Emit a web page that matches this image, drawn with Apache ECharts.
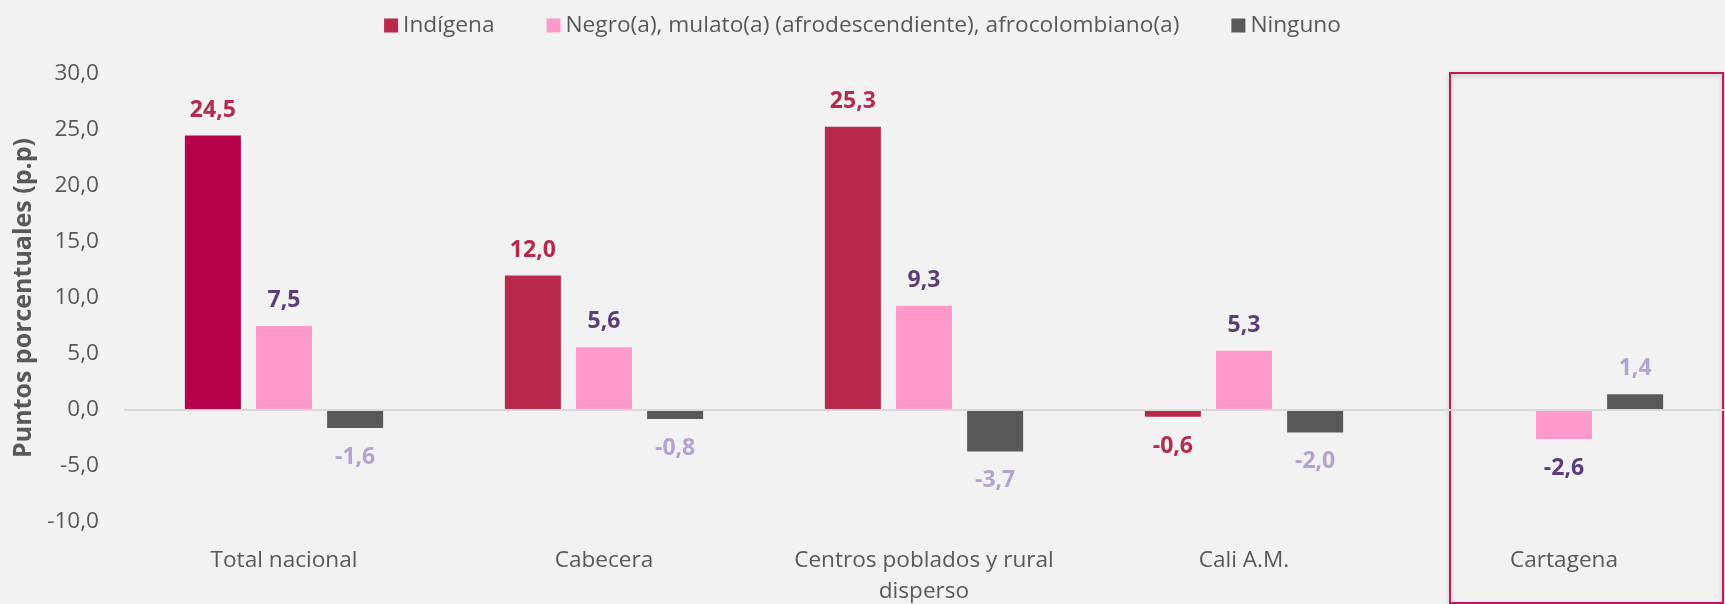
<!DOCTYPE html>
<html>
<head>
<meta charset="utf-8">
<script src="https://cdn.jsdelivr.net/npm/echarts@6/dist/echarts.min.js"></script>
<style>
html,body{margin:0;padding:0;background:#F2F2F2;}
#chart{width:1725px;height:604px;}
</style>
</head>
<body>
<div id="chart"></div>
<script>
const categories = ['Total nacional', 'Cabecera', 'Centros poblados y rural\ndisperso', 'Cali A.M.', 'Cartagena'];
const seriesNames = ['Indígena', 'Negro(a), mulato(a) (afrodescendiente), afrocolombiano(a)', 'Ninguno'];
const indigena = [24.5, 12.0, 25.3, -0.6, null];
const negro = [7.5, 5.6, 9.3, 5.3, -2.6];
const ninguno = [-1.6, -0.8, -3.7, -2.0, 1.4];
const yTicks = { min: -10, max: 30, interval: 5 };

const FONT = 'Open Sans';
const fmt = v => Number(v).toFixed(1).replace('.', ',');

function buildData(values, barColors) {
  return values.map((v, i) => {
    if (v === null) return null;
    const item = { value: v, label: { distance: v >= 0 ? 14 : 18 } };
    if (barColors && barColors[i]) item.itemStyle = { color: barColors[i] };
    return item;
  });
}

function makeSeries(name, values, color, labelColor, barColors) {
  return {
    name: name,
    type: 'bar',
    barWidth: 56,
    barGap: '27%',
    itemStyle: { color: color },
    data: buildData(values, barColors),
    label: {
      show: true,
      position: 'outside',
      formatter: p => fmt(p.value),
      color: labelColor,
      fontFamily: FONT,
      fontWeight: 'bold',
      fontSize: 23
    }
  };
}

const chart = echarts.init(document.getElementById('chart'));
const s1 = makeSeries(seriesNames[0], indigena, '#B8294B', '#B8294B', ['#B8004A']);
s1.markLine = {
  silent: true,
  symbol: 'none',
  label: { show: false },
  lineStyle: { color: '#D9D9D9', width: 2, type: 'solid' },
  data: [{ yAxis: 0 }]
};
const s2 = makeSeries(seriesNames[1], negro, '#FF99CC', '#5B3D7C');
const s3 = makeSeries(seriesNames[2], ninguno, '#595959', '#B4A2CF');

chart.setOption({
  backgroundColor: '#F2F2F2',
  animation: false,
  textStyle: { fontFamily: FONT },
  legend: {
    top: 9,
    left: 'center',
    itemWidth: 14,
    itemHeight: 14,
    itemGap: 52,
    icon: 'rect',
    textStyle: { color: '#595959', fontSize: 22.7, fontFamily: FONT },
    data: seriesNames
  },
  grid: { left: 124, right: 1, top: 74, bottom: 82, containLabel: false, outerBoundsMode: 'none' },
  xAxis: {
    type: 'category',
    data: categories,
    axisLine: { show: false, onZero: false },
    axisTick: { show: false },
    axisLabel: { color: '#595959', fontSize: 22.6, fontFamily: FONT, margin: 23, lineHeight: 31, interval: 0 }
  },
  yAxis: {
    type: 'value',
    min: yTicks.min,
    max: yTicks.max,
    interval: yTicks.interval,
    name: 'Puntos porcentuales (p.p)',
    nameLocation: 'middle',
    nameGap: 87,
    nameTextStyle: { color: '#595959', fontSize: 25, fontWeight: 'bold', fontFamily: FONT },
    axisLine: { show: false },
    axisTick: { show: false },
    splitLine: { show: false },
    axisLabel: { color: '#595959', fontSize: 22.6, fontFamily: FONT, margin: 25, formatter: v => fmt(v) }
  },
  graphic: [{
    type: 'rect',
    silent: true,
    shape: { x: 1450, y: 73, width: 273, height: 530 },
    style: { fill: 'none', stroke: '#C2185B', lineWidth: 2, shadowBlur: 4, shadowColor: 'rgba(0,0,0,0.25)', shadowOffsetY: 2 }
  }],
  series: [s1, s2, s3]
});
</script>
</body>
</html>
